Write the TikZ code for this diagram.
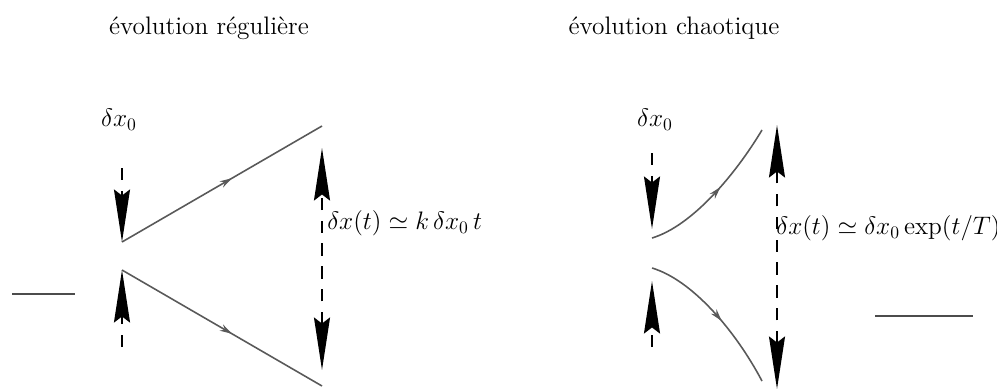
\documentclass[tikz,border=0pt]{standalone}
\usepackage{amsmath, amssymb}
\usetikzlibrary{arrows.meta}
\usetikzlibrary{decorations.markings}

\tikzset{
  traj/.style = {black!65, line width=0.9pt,
    postaction={decorate, decoration={markings,
      mark=at position 0.55 with {\arrow{Stealth[length=7pt,width=4pt,open]}}}}},
  ecart/.style = {dashed, dash pattern=on 7pt off 6pt, line width=1.2pt,
    -{Stealth[length=1.05cm,width=0.32cm,inset=0.12cm]}},
  ecartdouble/.style = {ecart, {Stealth[length=1.05cm,width=0.32cm,inset=0.12cm]}-{Stealth[length=1.05cm,width=0.32cm,inset=0.12cm]}},
  legende/.style = {inner sep=0pt, font=\Large},
  titre/.style = {inner sep=0pt, font=\Large}
}

\begin{document}
\begin{tikzpicture}[x=0.02cm, y=-0.02cm]
      \useasboundingbox (0,0) rectangle (997,389);
      % evolution reguliere
      \coordinate (r0) at (122,242);
      \coordinate (r1) at (122,270);
      \coordinate (rh) at (322,126);
      \coordinate (rb) at (322,386);
      \coordinate (rd0) at (122,168);
      \coordinate (rd1) at (122,347);
      \coordinate (rdh) at (322,148);
      \coordinate (rdb) at (322,370);
      \coordinate (rl0) at (12,294);
      \coordinate (rl1) at (75,294);
      \node[titre] (tr) at (209,28) {évolution régulière};
      \node[legende] (dr) at (119,120) {$\delta x_0$};
      \node[legende, anchor=west] (er) at (327,223) {$\delta x(t) \simeq k\,\delta x_0\, t$};
      \draw[traj] (r0) -- (rh);
      \draw[traj] (r1) -- (rb);
      \draw[ecart] (rd0) -- (r0);
      \draw[ecart] (rd1) -- (r1);
      \draw[ecartdouble] (rdb) -- (rdh);
      \draw[black!70, line width=0.9pt] (rl0) -- (rl1);
      % evolution chaotique
      \coordinate (c0) at (652,238);
      \coordinate (c1) at (652,268);
      \coordinate (ch) at (762,130);
      \coordinate (cb) at (762,381);
      \coordinate (cd0) at (652,153);
      \coordinate (cd1) at (652,347);
      \coordinate (cdh) at (777,125);
      \coordinate (cdb) at (777,389);
      \coordinate (cl0) at (875,316);
      \coordinate (cl1) at (973,316);
      \node[titre] (tc) at (674,28) {évolution chaotique};
      \node[legende] (dc) at (655,120) {$\delta x_0$};
      \node[legende, anchor=west] (ec) at (776,228) {$\delta x(t) \simeq \delta x_0 \exp(t/T)$};
      \draw[traj] (c0) .. controls (692,226) and (735,175) .. (ch);
      \draw[traj] (c1) .. controls (692,280) and (735,330) .. (cb);
      \draw[ecart] (cd0) -- (652,229);
      \draw[ecart] (cd1) -- (652,281);
      \draw[ecartdouble] (cdb) -- (cdh);
      \draw[black!70, line width=0.9pt] (cl0) -- (cl1);
\end{tikzpicture}
\end{document}
